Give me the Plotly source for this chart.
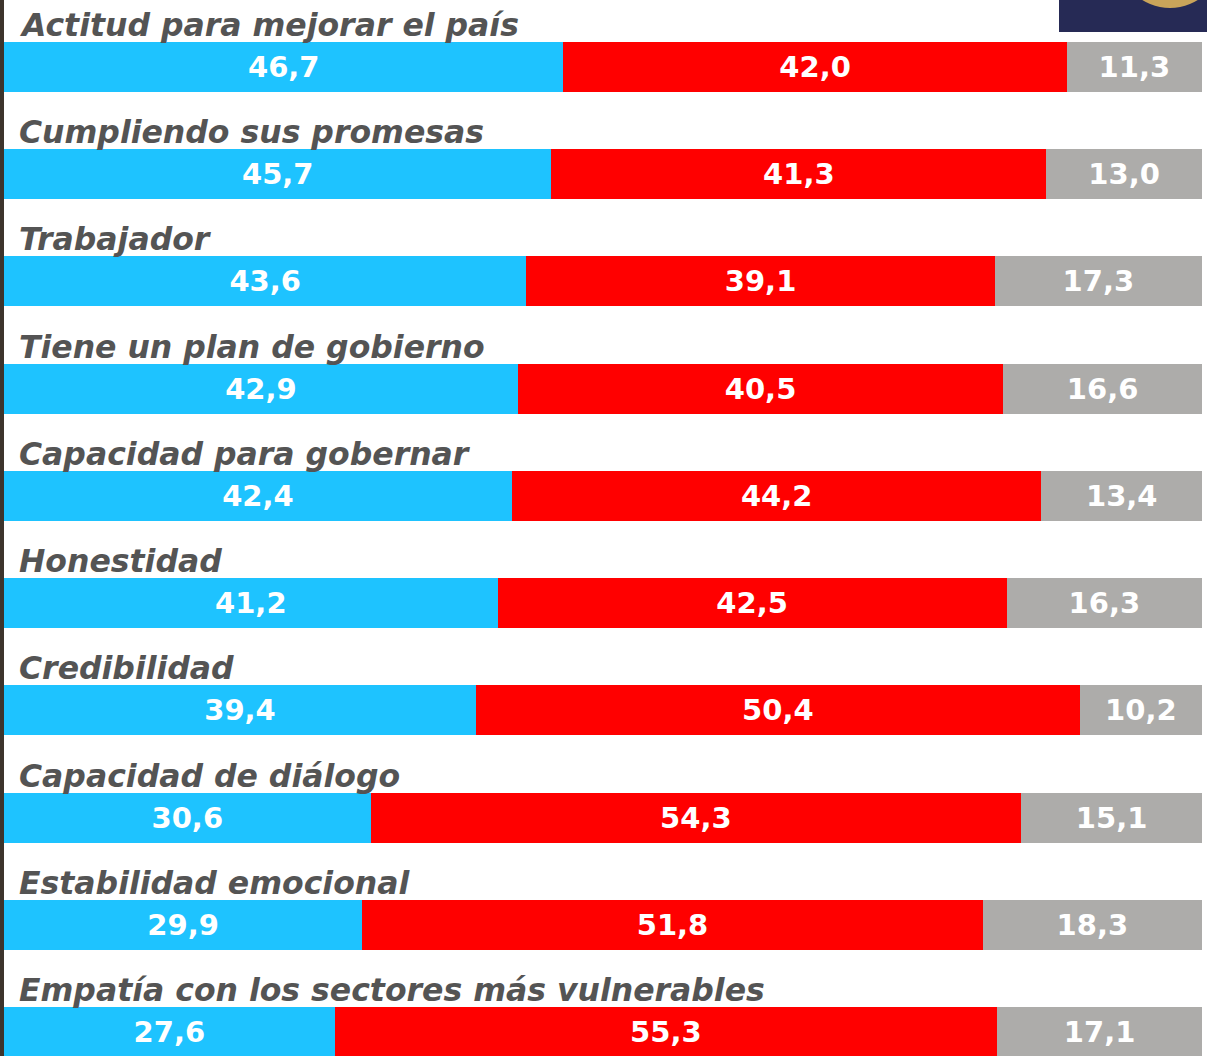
import plotly.graph_objects as go

categories = [
    "Actitud para mejorar el país",
    "Cumpliendo sus promesas",
    "Trabajador",
    "Tiene un plan de gobierno",
    "Capacidad para gobernar",
    "Honestidad",
    "Credibilidad",
    "Capacidad de diálogo",
    "Estabilidad emocional",
    "Empatía con los sectores más vulnerables",
]
blue_vals = [46.7, 45.7, 43.6, 42.9, 42.4, 41.2, 39.4, 30.6, 29.9, 27.6]
red_vals = [42.0, 41.3, 39.1, 40.5, 44.2, 42.5, 50.4, 54.3, 51.8, 55.3]
gray_vals = [11.3, 13.0, 17.3, 16.6, 13.4, 16.3, 10.2, 15.1, 18.3, 17.1]

colors = ["#1EC3FF", "#FF0000", "#ADACAA"]
rows = list(range(len(categories)))

def fmt(v):
    return f"{v:.1f}".replace(".", ",")

W, H = 1207, 1056
ML, MR = 4, 5
PW = W - ML - MR

fig = go.Figure()
for vals, col in zip([blue_vals, red_vals, gray_vals], colors):
    fig.add_trace(go.Bar(
        x=vals, y=rows, orientation="h",
        marker=dict(color=col, line=dict(width=0)),
        width=0.466,
        text=[fmt(v) for v in vals],
        textposition="inside", insidetextanchor="middle",
        textfont=dict(family="'DejaVu Sans', sans-serif", size=29, color="white", weight="bold"),
        constraintext="none",
        hoverinfo="skip",
    ))

for i, c in enumerate(categories):
    fig.add_annotation(
        x=0, xref="paper", xanchor="left", xshift=13,
        y=i - 0.233, yref="y", yanchor="bottom", yshift=-3,
        text=f"<b><i>{c}</i></b>", showarrow=False,
        font=dict(family="'DejaVu Sans', sans-serif", size=31.5, color="#545454"),
    )

def px_x(p):
    return (p - ML) / PW

def px_y(p):
    return 1 - p / H

# decorative image fragments in the original
fig.add_shape(type="rect", xref="paper", yref="paper",
              x0=px_x(1059), x1=px_x(1210), y0=px_y(32), y1=px_y(-2),
              fillcolor="#262A55", line=dict(width=0), layer="above")
fig.add_shape(type="circle", xref="paper", yref="paper",
              x0=px_x(1118), x1=px_x(1222), y0=px_y(8), y1=px_y(-96),
              fillcolor="#C9A45A", line=dict(width=0), layer="above")
fig.add_shape(type="rect", xref="paper", yref="paper",
              x0=px_x(-2), x1=px_x(4), y0=0, y1=1,
              fillcolor="#3d342c", line=dict(width=0), layer="above")

fig.update_layout(
    barmode="stack",
    width=W, height=H,
    margin=dict(l=ML, r=MR, t=0, b=0),
    paper_bgcolor="white", plot_bgcolor="white",
    showlegend=False,
    bargap=0,
    hovermode=False,
    xaxis=dict(range=[0, 100], visible=False, fixedrange=True),
    yaxis=dict(range=[9.224, -0.625], visible=False, fixedrange=True),
)

fig.write_html("out.html", config={"displayModeBar": False, "staticPlot": True},
               post_script="document.body.style.margin='0';document.body.style.overflow='hidden';")
